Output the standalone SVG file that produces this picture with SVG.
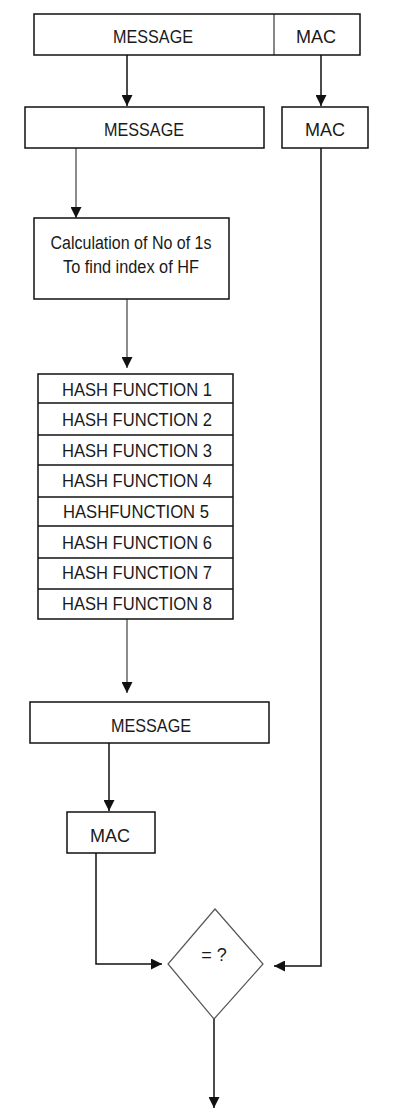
<svg xmlns="http://www.w3.org/2000/svg" width="400" height="1109" viewBox="0 0 400 1109">
<style>
.b{fill:#fff;stroke:#111;stroke-width:1.5}
.t{font-family:"Liberation Sans",Arial,sans-serif;font-size:18px;fill:#1a1a1a;text-anchor:middle}
.c{fill:none;stroke:#111;stroke-width:1.5}
.g{fill:none;stroke:#666;stroke-width:1.5}
</style>
<defs>
<marker id="ah" viewBox="0 0 10 10" refX="10" refY="5" markerWidth="11" markerHeight="11" markerUnits="userSpaceOnUse" orient="auto">
<path d="M0,0 L10,5 L0,10 Z" fill="#111"/>
</marker>
</defs>
<rect width="400" height="1109" fill="#fff"/>
<g id="connectors">
<line class="c" x1="127" y1="55" x2="127" y2="106" marker-end="url(#ah)"/>
<line class="c" x1="321" y1="55" x2="321" y2="106" marker-end="url(#ah)"/>
<line class="g" x1="76" y1="148" x2="76" y2="218" marker-end="url(#ah)"/>
<line class="g" x1="127" y1="299" x2="127" y2="368" marker-end="url(#ah)"/>
<polyline class="c" points="321,148 321,966 274,966" marker-end="url(#ah)"/>
<line class="g" x1="127" y1="619" x2="127" y2="693" marker-end="url(#ah)"/>
<line class="c" x1="109" y1="743" x2="109" y2="811" marker-end="url(#ah)"/>
<polyline class="c" points="96,853 96,964 162,964" marker-end="url(#ah)"/>
<line class="c" x1="214" y1="1019" x2="214" y2="1108" marker-end="url(#ah)"/>
</g>
<g id="top">
<rect class="b" x="34" y="14" width="326" height="41"/>
<line x1="274" y1="14" x2="274" y2="55" stroke="#111" stroke-width="1"/>
<text class="t" x="153" y="43" textLength="80" lengthAdjust="spacingAndGlyphs">MESSAGE</text>
<text class="t" x="316" y="43" textLength="40" lengthAdjust="spacingAndGlyphs">MAC</text>
</g>
<g id="message1">
<rect class="b" x="25" y="107" width="239" height="41"/>
<text class="t" x="144" y="136" textLength="80" lengthAdjust="spacingAndGlyphs">MESSAGE</text>
</g>
<g id="mac1">
<rect class="b" x="282" y="107" width="86" height="41"/>
<text class="t" x="325" y="136" textLength="40" lengthAdjust="spacingAndGlyphs">MAC</text>
</g>
<g id="calc">
<rect class="b" x="34" y="218" width="195" height="81"/>
<text class="t" x="131" y="249" font-size="16" textLength="161" lengthAdjust="spacingAndGlyphs">Calculation of No of 1s</text>
<text class="t" x="131" y="273" font-size="16" textLength="136" lengthAdjust="spacingAndGlyphs">To find index of HF</text>
</g>
<g id="hash">
<rect class="b" x="38" y="374" width="195" height="245"/>
<g stroke="#111" stroke-width="1.5">
<line x1="38" y1="403" x2="233" y2="403"/>
<line x1="38" y1="435" x2="233" y2="435"/>
<line x1="38" y1="465" x2="233" y2="465"/>
<line x1="38" y1="497" x2="233" y2="497"/>
<line x1="38" y1="526" x2="233" y2="526"/>
<line x1="38" y1="558" x2="233" y2="558"/>
<line x1="38" y1="589" x2="233" y2="589"/>
</g>
<text class="t" x="137" y="396" textLength="150" lengthAdjust="spacingAndGlyphs">HASH FUNCTION 1</text>
<text class="t" x="137" y="426" textLength="150" lengthAdjust="spacingAndGlyphs">HASH FUNCTION 2</text>
<text class="t" x="137" y="457" textLength="150" lengthAdjust="spacingAndGlyphs">HASH FUNCTION 3</text>
<text class="t" x="137" y="487" textLength="150" lengthAdjust="spacingAndGlyphs">HASH FUNCTION 4</text>
<text class="t" x="136" y="518" textLength="146" lengthAdjust="spacingAndGlyphs">HASHFUNCTION 5</text>
<text class="t" x="137" y="549" textLength="150" lengthAdjust="spacingAndGlyphs">HASH FUNCTION 6</text>
<text class="t" x="137" y="579" textLength="150" lengthAdjust="spacingAndGlyphs">HASH FUNCTION 7</text>
<text class="t" x="137" y="610" textLength="150" lengthAdjust="spacingAndGlyphs">HASH FUNCTION 8</text>
</g>
<g id="message2">
<rect class="b" x="30" y="702" width="239" height="41"/>
<text class="t" x="151" y="732" textLength="80" lengthAdjust="spacingAndGlyphs">MESSAGE</text>
</g>
<g id="mac2">
<rect class="b" x="67" y="812" width="88" height="41"/>
<text class="t" x="110" y="842" textLength="40" lengthAdjust="spacingAndGlyphs">MAC</text>
</g>
<g id="compare">
<polygon points="215,909 263,964 214,1019 168,964" fill="#fff" stroke="#555" stroke-width="1.2"/>
<text class="t" x="214" y="961" font-size="16">= ?</text>
</g>
</svg>
